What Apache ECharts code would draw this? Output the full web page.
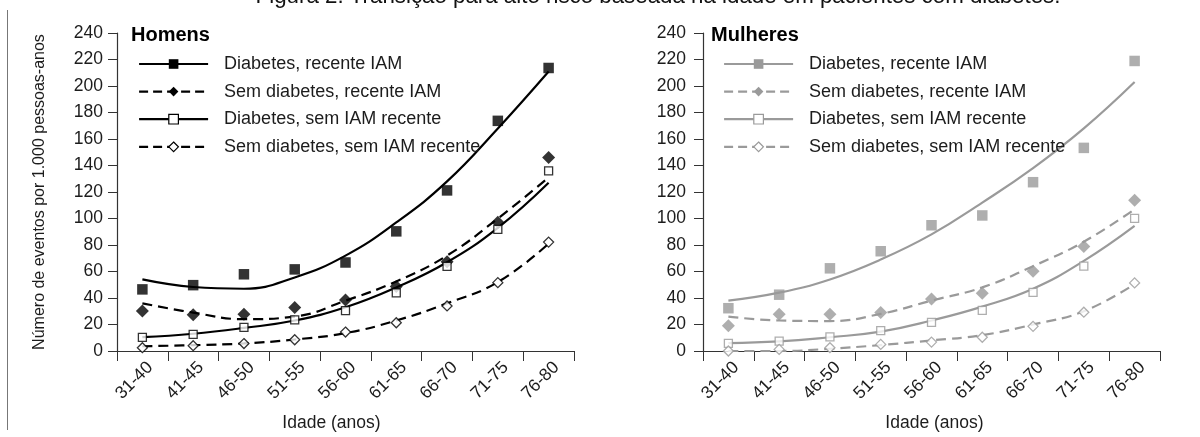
<!DOCTYPE html>
<html>
<head>
<meta charset="utf-8">
<script src="https://cdn.jsdelivr.net/npm/echarts@6/dist/echarts.min.js"></script>
<style>
  html, body { margin: 0; padding: 0; background: #fff; }
  #grafico { width: 1200px; height: 437px; }
</style>
</head>
<body>
<div id="grafico"></div>
<script>
// Faixas etárias (eixo X)
const idades = ['31-40', '41-45', '46-50', '51-55', '56-60', '61-65', '66-70', '71-75', '76-80'];

// Nomes das séries (legenda)
const nomesSeries = [
  'Diabetes, recente IAM',
  'Sem diabetes, recente IAM',
  'Diabetes, sem IAM recente',
  'Sem diabetes, sem IAM recente'
];

// Homens: eventos por 1.000 pessoas-anos (observados)
const homensDiabRecente      = [46.5, 49.7, 57.9, 61.6, 66.8, 90.3, 121.2, 173.7, 213.6];
const homensSemDiabRecente   = [30.2, 27.4, 27.8, 32.9, 38.5, 48.7, 67.3, 97.2, 146];
const homensDiabSemIAM       = [10.3, 12.6, 17.9, 23.5, 30.5, 43.8, 63.8, 91.8, 136];
const homensSemDiabSemIAM    = [2.5, 4, 5.6, 8.5, 14.3, 21.3, 34, 51.6, 82.2];

// Homens: curvas de tendência
const homensDiabRecenteTend    = [54, 48.3, 47, 55.5, 72, 97, 128, 168, 211];
const homensSemDiabRecenteTend = [36, 29, 24, 26, 38, 52.5, 72, 100, 131];
const homensDiabSemIAMTend     = [10.4, 13, 17.4, 23, 33, 48, 67, 93, 127];
const homensSemDiabSemIAMTend  = [3.6, 4.4, 5.7, 8.7, 13.5, 23, 36, 52, 81];

// Mulheres: eventos por 1.000 pessoas-anos (observados)
const mulheresDiabRecente    = [32.3, 42.5, 62.4, 75.3, 94.9, 102.3, 127.4, 153.3, 218.9];
const mulheresSemDiabRecente = [19.1, 27.8, 27.8, 29, 39.3, 43.5, 60.1, 78.8, 113.8];
const mulheresDiabSemIAM     = [5.7, 7.5, 10.7, 15.4, 21.6, 30.6, 44.2, 64.1, 100.1];
const mulheresSemDiabSemIAM  = [0, 1.2, 2.5, 5, 6.7, 10.4, 18.6, 29.3, 51.4];

// Mulheres: curvas de tendência
const mulheresDiabRecenteTend    = [38, 44, 54, 69, 88, 112, 138, 168, 203];
const mulheresSemDiabRecenteTend = [26, 23, 22.6, 28, 38, 48, 64, 82.5, 107];
const mulheresDiabSemIAMTend     = [6, 7.2, 10.4, 14.6, 23, 33.5, 47, 68, 94.4];
const mulheresSemDiabSemIAMTend  = [0, 0, 1.7, 4.5, 8, 12, 20, 30, 50.5];

const FONTE = '"Liberation Sans", Arial, Helvetica, sans-serif';
const PRETO = '#000';
const CINZA = '#9a9a9a';
const EIXO = '#333';
const TEXTO = '#1c1c1c';

// Aparência de cada série: marcador e tipo de linha
const estilos = [
  { symbol: 'rect',    size: 10.5, aberto: false, tracejado: false },
  { symbol: 'diamond', size: 13,   aberto: false, tracejado: true  },
  { symbol: 'rect',    size: 8,    aberto: true,  tracejado: false },
  { symbol: 'diamond', size: 10,   aberto: true,  tracejado: true  }
];

function estiloMarcador(i, cor) {
  return estilos[i].aberto
    ? { color: '#fff', borderColor: cor, borderWidth: 1.3 }
    : { color: cor, borderWidth: 0 };
}

function painel(idx, cor, pontos, tendencias) {
  const linhas = tendencias.map((d, i) => ({
    name: nomesSeries[i],
    type: 'line',
    xAxisIndex: idx,
    yAxisIndex: idx,
    data: d,
    smooth: 0.45,
    showSymbol: false,
    symbol: estilos[i].symbol,
    symbolSize: estilos[i].size,
    lineStyle: { color: cor, width: 2.2, type: estilos[i].tracejado ? [10, 6] : 'solid' },
    itemStyle: estiloMarcador(i, cor),
    silent: true,
    z: 2
  }));
  const marcas = pontos.map((d, i) => ({
    name: nomesSeries[i],
    type: 'scatter',
    xAxisIndex: idx,
    yAxisIndex: idx,
    data: d,
    symbol: estilos[i].symbol,
    symbolSize: estilos[i].size,
    itemStyle: estiloMarcador(i, cor),
    z: 3
  }));
  return linhas.concat(marcas);
}

function itensLegenda(cor) {
  return nomesSeries.map((n, i) => ({
    name: n,
    itemStyle: estilos[i].aberto
      ? { color: '#fff', borderColor: cor, borderWidth: 1.2 }
      : { color: cor, borderWidth: 0 },
    lineStyle: { color: cor, width: 2.2, type: estilos[i].tracejado ? [9, 5] : 'solid' }
  }));
}

function legenda(esquerda, cor) {
  return {
    orient: 'vertical',
    left: esquerda,
    top: 55,
    padding: 0,
    itemWidth: 69,
    itemHeight: 12,
    itemGap: 9.6,
    selectedMode: false,
    data: itensLegenda(cor),
    textStyle: { fontFamily: FONTE, fontSize: 18, color: TEXTO, padding: [0, 0, 0, 11] }
  };
}

function eixoX(idx, deslocNome) {
  return {
    gridIndex: idx,
    type: 'category',
    data: idades,
    boundaryGap: true,
    axisLine: { lineStyle: { color: EIXO, width: 1.2 } },
    axisTick: { show: true, interval: 0, length: 10, alignWithLabel: false, lineStyle: { color: EIXO } },
    axisLabel: {
      interval: 0, rotate: 45, fontFamily: FONTE, fontSize: 17.5, color: TEXTO,
      margin: 6, verticalAlign: 'top', lineHeight: 22
    },
    splitLine: { show: false },
    name: 'Idade (anos)',
    nameLocation: 'middle',
    nameGap: 63,
    nameTextStyle: { fontFamily: FONTE, fontSize: 17.5, color: TEXTO, padding: deslocNome }
  };
}

function eixoY(idx, margem) {
  return {
    gridIndex: idx,
    type: 'value',
    min: 0,
    max: 240,
    interval: 20,
    axisLine: { show: true, lineStyle: { color: EIXO, width: 1.2 } },
    axisTick: { show: true, length: 9, lineStyle: { color: EIXO } },
    axisLabel: { fontFamily: FONTE, fontSize: 17.5, color: TEXTO, margin: margem },
    splitLine: { show: false }
  };
}

const grafico = echarts.init(document.getElementById('grafico'), null, { renderer: 'canvas' });

grafico.setOption({
  backgroundColor: '#fff',
  animation: false,
  title: [
    { text: 'Homens', left: 131, top: 25, padding: 0,
      textStyle: { fontFamily: FONTE, fontSize: 20, fontWeight: 'bold', color: '#000' } },
    { text: 'Mulheres', left: 711, top: 25, padding: 0,
      textStyle: { fontFamily: FONTE, fontSize: 20, fontWeight: 'bold', color: '#000' } }
  ],
  legend: [legenda(138, PRETO), legenda(723, CINZA)],
  grid: [
    { left: 117, top: 33, width: 457, height: 322 },
    { left: 703, top: 33, width: 457, height: 322 }
  ],
  xAxis: [eixoX(0, [0, 28, 0, 0]), eixoX(1, [0, 0, 0, 6])],
  yAxis: [eixoY(0, 14), eixoY(1, 17)],
  series: painel(0, PRETO,
      [homensDiabRecente, homensSemDiabRecente, homensDiabSemIAM, homensSemDiabSemIAM],
      [homensDiabRecenteTend, homensSemDiabRecenteTend, homensDiabSemIAMTend, homensSemDiabSemIAMTend])
    .concat(painel(1, CINZA,
      [mulheresDiabRecente, mulheresSemDiabRecente, mulheresDiabSemIAM, mulheresSemDiabSemIAM],
      [mulheresDiabRecenteTend, mulheresSemDiabRecenteTend, mulheresDiabSemIAMTend, mulheresSemDiabSemIAMTend])),
  graphic: [
    {
      type: 'text',
      style: {
        text: 'Figura 2. Transição para alto risco baseada na idade em pacientes com diabetes.',
        x: 658, y: 8, align: 'center', verticalAlign: 'bottom',
        font: '22.3px ' + FONTE, fill: '#111'
      }
    },
    {
      type: 'line',
      shape: { x1: 7.5, y1: 10, x2: 7.5, y2: 430 },
      style: { stroke: '#777', lineWidth: 1 }
    },
    {
      type: 'text',
      x: 40, y: 192, rotation: Math.PI / 2,
      style: {
        text: 'Número de eventos por 1.000 pessoas-anos',
        align: 'center', verticalAlign: 'middle',
        font: '16px ' + FONTE, fill: TEXTO
      }
    }
  ]
});
</script>
</body>
</html>
